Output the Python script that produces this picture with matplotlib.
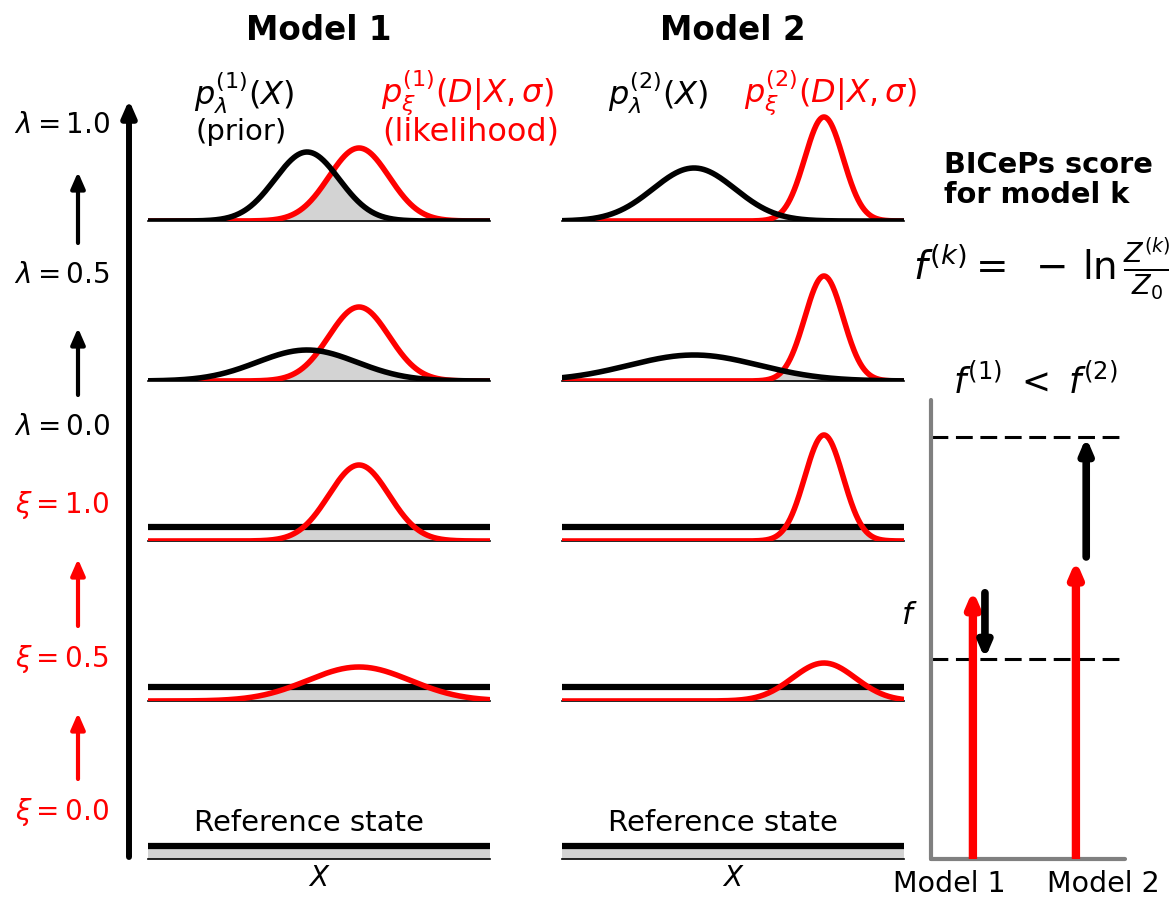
import numpy as np
import matplotlib.pyplot as plt

plt.rcParams['font.family'] = 'DejaVu Sans'
plt.rcParams['mathtext.fontset'] = 'dejavusans'

W, H = 1169, 899

# distributions on X in [0, 10]; rows go lambda=1.0, 0.5, 0.0/xi=1.0, xi=0.5, xi=0.0
prior_mu = [4.65, 3.86]
prior_sd = [[0.94, 1.46, 0, 0, 0], [1.2, 1.9, 0, 0, 0]]          # 0 -> flat
prior_h = [[0.69, 0.31, 0.14, 0.14, 0.13], [0.53, 0.26, 0.14, 0.14, 0.13]]
lik_mu = [6.17, 7.66]
lik_sd = [[0.88, 0.88, 0.88, 1.5, 0], [0.56, 0.56, 0.56, 0.92, 0]]
lik_h = [[0.73, 0.74, 0.76, 0.34, 0.13], [1.04, 1.05, 1.06, 0.38, 0.13]]

# BICePs score panel
f_final = [0.436, 0.919]
f_xi = [0.586, 0.651]
model_labels = ["Model 1", "Model 2"]

row_base = [221, 381, 541, 701, 859]
panel_left = [148, 562]
x = np.linspace(0, 10, 500)


def curve(h, mu, sd):
    if sd == 0:
        return np.full_like(x, h)
    return h * np.exp(-(x - mu) ** 2 / (2 * sd ** 2))


fig = plt.figure(figsize=(W / 100, H / 100), dpi=100)

for m in range(2):
    for r in range(5):
        ax = fig.add_axes([panel_left[m] / W, 1 - row_base[r] / H, 342 / W, 150 / H])
        ax.set_facecolor('none')
        ax.set_xlim(0, 10)
        ax.set_ylim(0, 1.5)
        ax.set_xticks([])
        ax.set_yticks([])
        for s in ['top', 'left', 'right']:
            ax.spines[s].set_visible(False)
        ax.spines['bottom'].set_linewidth(1.2)
        p = curve(prior_h[m][r], prior_mu[m], prior_sd[m][r])
        l = curve(lik_h[m][r], lik_mu[m], lik_sd[m][r])
        ax.fill_between(x, 0, np.minimum(p, l), color='lightgray', lw=0)
        red_on_top = prior_sd[m][r] == 0 and lik_sd[m][r] != 0
        ax.plot(x, l, color='red', lw=4, zorder=4 if red_on_top else 3)
        ax.plot(x, p, color='black', lw=4 if prior_sd[m][r] else 4.5, zorder=3 if red_on_top else 4)

# right panel: f for each model
axf = fig.add_axes([931 / W, 1 - 859 / H, 194 / W, 459 / H])
axf.set_facecolor('none')
axf.set_xlim(0, 1)
axf.set_ylim(0, 1)
for s in ['top', 'right']:
    axf.spines[s].set_visible(False)
for s in ['left', 'bottom']:
    axf.spines[s].set_color('gray')
    axf.spines[s].set_linewidth(3)
    axf.spines[s].set_capstyle('round')
axf.set_yticks([])
axf.set_xticks([0.093, 0.887], model_labels, fontsize=20.5)
axf.tick_params(axis='x', length=0, pad=8)
for fv in f_final:
    axf.axhline(fv, color='black', lw=2.2, dashes=(5.5, 2.5))
red_x = [0.216, 0.747]
blk_x = [0.278, 0.80]
for i in range(2):
    axf.annotate('', xy=(red_x[i], f_xi[i]), xytext=(red_x[i], 0),
                 arrowprops=dict(arrowstyle='-|>,head_length=0.7,head_width=0.3', mutation_scale=12,
                                 lw=6, color='red', shrinkA=0, shrinkB=0, capstyle='butt'))
    axf.annotate('', xy=(blk_x[i], f_final[i]), xytext=(blk_x[i], f_xi[i] - 0.006 if i == 0 else f_xi[i] + 0.007),
                 arrowprops=dict(arrowstyle='-|>,head_length=0.7,head_width=0.3', mutation_scale=12,
                                 lw=5.5, color='black', shrinkA=0, shrinkB=0, capstyle='round'))

# overlay for labels and arrows (pixel layout)
ov = fig.add_axes([0, 0, 1, 1])
ov.set_xlim(0, W)
ov.set_ylim(H, 0)
ov.axis('off')

ov.text(319, 31, "Model 1", fontsize=23.5, fontweight='bold', ha='center', va='center')
ov.text(733, 31, "Model 2", fontsize=23.5, fontweight='bold', ha='center', va='center')
ov.text(194, 93, r"$p_{\lambda}^{(1)}(X)$", fontsize=23, ha='left', va='center')
ov.text(195, 132, "(prior)", fontsize=21, ha='left', va='center')
ov.text(381, 93, r"$p_{\xi}^{(1)}(D|X,\sigma)$", fontsize=23, ha='left', va='center', color='red')
ov.text(382, 132, "(likelihood)", fontsize=23, ha='left', va='center', color='red')
ov.text(608, 93, r"$p_{\lambda}^{(2)}(X)$", fontsize=23, ha='left', va='center')
ov.text(744, 93, r"$p_{\xi}^{(2)}(D|X,\sigma)$", fontsize=23, ha='left', va='center', color='red')

for cx in [309, 723]:
    ov.text(cx, 823, "Reference state", fontsize=21, ha='center', va='center')
for cx in [319, 733]:
    ov.text(cx, 878, r"$X$", fontsize=20, ha='center', va='center')

lam_labels = [(r"$\lambda = 1.0$", 133, 'black'), (r"$\lambda = 0.5$", 283, 'black'),
              (r"$\lambda = 0.0$", 435, 'black'), (r"$\xi = 1.0$", 513, 'red'),
              (r"$\xi = 0.5$", 667, 'red'), (r"$\xi = 0.0$", 820, 'red')]
for txt, yb, c in lam_labels:
    ov.text(62, yb, txt, fontsize=20, ha='center', va='baseline', color=c)

small_arrows = [(243, 172, 'black'), (395, 328, 'black'), (626, 559, 'red'), (779, 713, 'red')]
for y0, y1, c in small_arrows:
    ov.annotate('', xy=(78, y1), xytext=(78, y0),
                arrowprops=dict(arrowstyle='-|>,head_length=0.8,head_width=0.35', mutation_scale=12,
                                lw=3, color=c, shrinkA=0, shrinkB=0, capstyle='round'))
ov.annotate('', xy=(129, 100), xytext=(129, 857),
            arrowprops=dict(arrowstyle='-|>,head_length=0.8,head_width=0.35', mutation_scale=12,
                            lw=4.3, color='black', shrinkA=0, shrinkB=0, capstyle='round'))

ov.text(944, 180, "BICePs score\nfor model k", fontsize=20.8, fontweight='bold', ha='left', va='center',
        linespacing=1.05)
ov.text(913, 268, r"$f^{(k)} =\ -\,\ln\frac{Z^{(k)}}{Z_0}$", fontsize=28, ha='left', va='center')
ov.text(1035, 382, r"$f^{(1)}\ <\ f^{(2)}$", fontsize=25, ha='center', va='center')
ov.text(909, 615, r"$f$", fontsize=22, ha='center', va='center')

fig.savefig("out.png", dpi=100)
